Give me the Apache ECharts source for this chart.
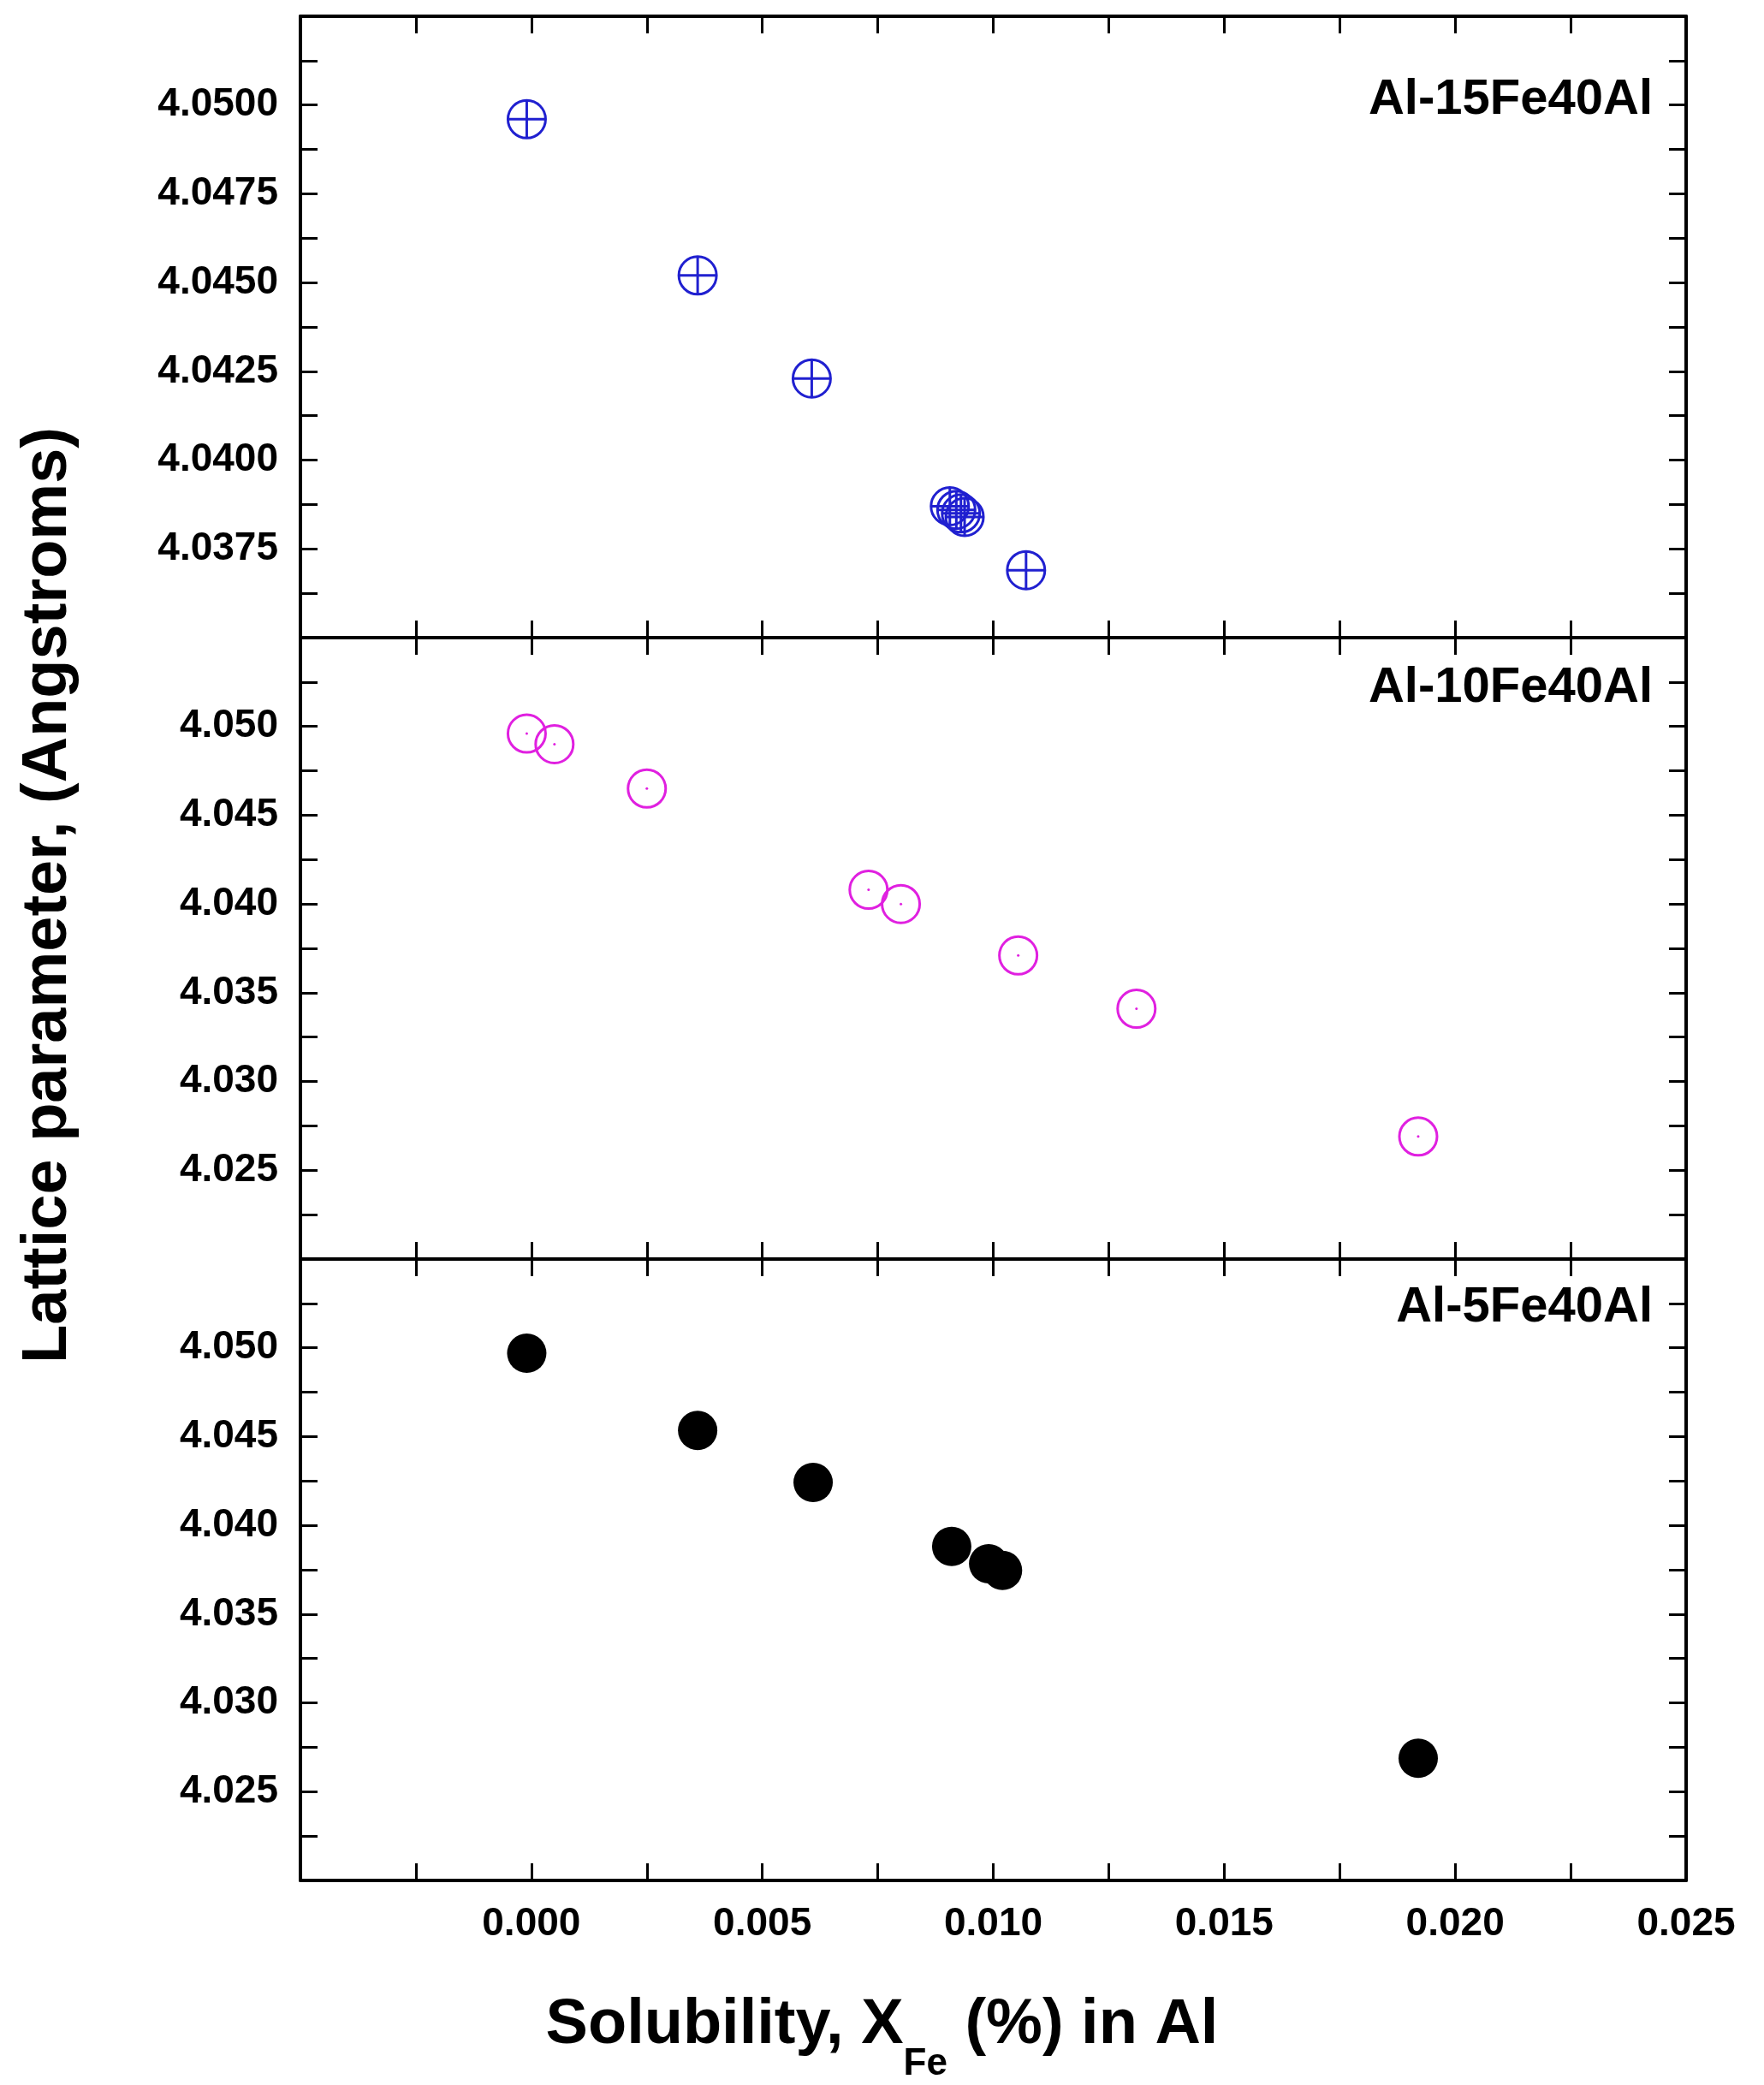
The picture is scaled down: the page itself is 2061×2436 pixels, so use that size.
<!DOCTYPE html>
<html><head><meta charset="utf-8">
<script src="https://cdn.jsdelivr.net/npm/echarts@6/dist/echarts.min.js"></script>
<style>html,body{margin:0;background:#fff}#c{width:2061px;height:2436px}</style>
</head><body><div id="c"></div>
<script>
const fe15X = [-0.0001, 0.0036, 0.00607, 0.00906, 0.0092, 0.0093, 0.00938, 0.01071];
const fe15Y = [4.0496, 4.0452, 4.0423, 4.0387, 4.0386, 4.0385, 4.0384, 4.0369];
const fe10X = [-0.0001, 0.0005, 0.0025, 0.0073, 0.0080, 0.01054, 0.0131, 0.0192];
const fe10Y = [4.0496, 4.0490, 4.0465, 4.0408, 4.0400, 4.0371, 4.0341, 4.0269];
const fe5X = [-0.0001, 0.0036, 0.0061, 0.0091, 0.0099, 0.0102, 0.0192];
const fe5Y = [4.0497, 4.04535, 4.04242, 4.03881, 4.03784, 4.03746, 4.02688];
const panelNames = ['Al-15Fe40Al', 'Al-10Fe40Al', 'Al-5Fe40Al'];
const xTitle = 'Solubility, X';
const yTitle = 'Lattice parameter, (Angstroms)';

const zip = (a, b) => a.map((v, i) => [v, b[i]]);
const font = 'Liberation Sans, Arial, sans-serif';
const tops = [19, 745, 1471], H = 726;
const grid = tops.map(t => ({left: 351, right: 91, top: t, height: H}));
const line = {show: true, onZero: false, lineStyle: {color: '#000', width: 4}};
const tick = {show: true, inside: true, length: 20, lineStyle: {color: '#000', width: 3}};
const minor = {show: true, splitNumber: 2, length: 20, lineStyle: {color: '#000', width: 3}};
const xAxis = [], yAxis = [];
const yr = [[4.035, 4.0525, 0.0025, 4], [4.020, 4.055, 0.005, 3], [4.020, 4.055, 0.005, 3]];
for (let i = 0; i < 3; i++) {
  for (const pos of ['bottom', 'top']) {
    xAxis.push({gridIndex: i, type: 'value', position: pos, min: -0.005, max: 0.025, interval: 0.005,
      axisLine: line, axisTick: tick, minorTick: minor, splitLine: {show: false},
      axisLabel: {show: i === 2 && pos === 'bottom', margin: 28, fontFamily: font, fontWeight: 'bold', fontSize: 46, color: '#000',
        formatter: v => v < -0.001 ? '' : v.toFixed(3)}});
  }
  const [mn, mx, iv, dp] = yr[i];
  for (const pos of ['left', 'right']) {
    yAxis.push({gridIndex: i, type: 'value', position: pos, min: mn, max: mx, interval: iv,
      axisLine: line, axisTick: tick, minorTick: minor, splitLine: {show: false},
      axisLabel: {show: pos === 'left', margin: 26, fontFamily: font, fontWeight: 'bold', fontSize: 46, color: '#000',
        formatter: v => (Math.abs(v - mn) < 1e-6 || Math.abs(v - mx) < 1e-6) ? '' : v.toFixed(dp)}});
  }
}
const circ = 'path://M0,-10A10,10 0 1,1 0,10A10,10 0 1,1 0,-10Z';
const series = [
  {type: 'scatter', xAxisIndex: 0, yAxisIndex: 0, data: zip(fe15X, fe15Y), symbolSize: 44,
    symbol: circ + 'M-10,0L10,0M0,-10L0,10',
    itemStyle: {color: 'rgba(0,0,0,0)', borderColor: '#2020d0', borderWidth: 3, opacity: 1}},
  {type: 'scatter', xAxisIndex: 2, yAxisIndex: 2, data: zip(fe10X, fe10Y), symbolSize: 44, symbol: circ,
    itemStyle: {color: 'rgba(0,0,0,0)', borderColor: '#e020e0', borderWidth: 3, opacity: 1}},
  {type: 'scatter', xAxisIndex: 2, yAxisIndex: 2, data: zip(fe10X, fe10Y), symbolSize: 3, symbol: 'circle',
    itemStyle: {color: '#e020e0', opacity: 1}},
  {type: 'scatter', xAxisIndex: 4, yAxisIndex: 4, data: zip(fe5X, fe5Y), symbolSize: 46, symbol: 'circle',
    itemStyle: {color: '#000', opacity: 1}}
];
const labelY = [122, 809, 1533];
const graphic = panelNames.map((n, i) => ({type: 'text', right: 130, top: labelY[i] - 34,
  style: {text: n, font: 'bold 58px ' + font, fill: '#000'}}));
graphic.push({type: 'text', left: 'center', top: 2330, style: {
  text: '{a|' + xTitle + '}{s|Fe}{a| (%) in Al}', rich: {
    a: {font: 'bold 74px ' + font, fill: '#000', verticalAlign: 'bottom', lineHeight: 90},
    s: {font: 'bold 44px ' + font, fill: '#000', verticalAlign: 'bottom', lineHeight: 55, padding: [0, 0, -30, 0]}}}});
graphic.push({type: 'text', x: 20, y: 1046, rotation: Math.PI / 2, style: {
  text: yTitle, font: 'bold 74px ' + font, fill: '#000', textAlign: 'center', textVerticalAlign: 'top'}});
const chart = echarts.init(document.getElementById('c'));
chart.setOption({animation: false, backgroundColor: '#fff', grid, xAxis, yAxis, series, graphic});
</script></body></html>
